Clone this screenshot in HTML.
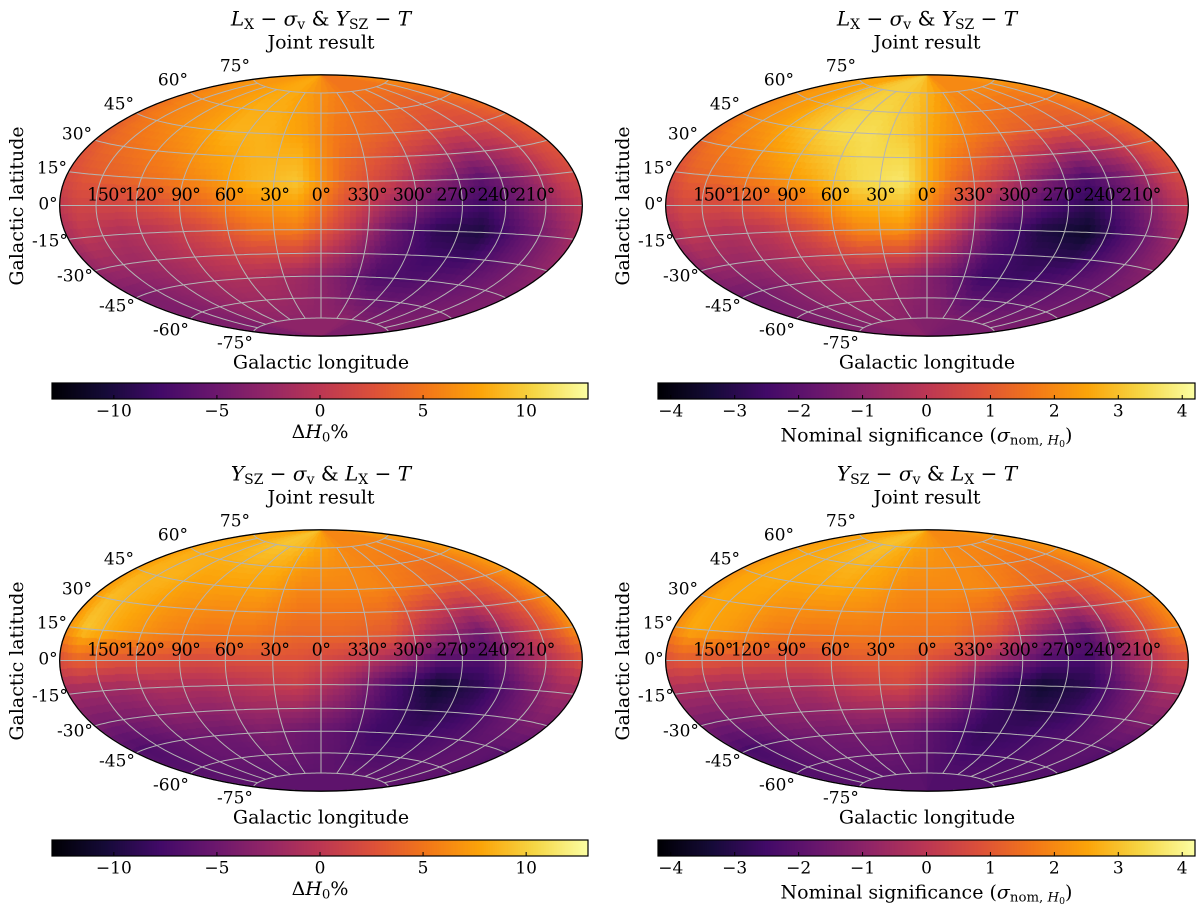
<!DOCTYPE html>
<html><head><meta charset="utf-8">
<style>
body{margin:0;background:#fff;}
#wrap{position:relative;width:1200px;height:908px;overflow:hidden;font-family:"DejaVu Serif","Liberation Serif",serif;color:#000;}
canvas,svg{position:absolute;left:0;top:0;}
.t{position:absolute;white-space:nowrap;transform:translate(-50%,-50%);line-height:1;}
.lon{letter-spacing:-0.6px;}
sub{font-size:70%;vertical-align:-0.25em;}
.ylab{position:absolute;white-space:nowrap;transform:translate(-50%,-50%) rotate(-90deg);font-size:19px;}
</style></head><body>
<div id="wrap">
<canvas id="cv" width="1200" height="908"></canvas>
<svg id="sv" width="1200" height="908"></svg>
</div>
<script>
// Grid data: plotted longitude columns (left->right) and latitude rows (top->bottom)
const lonCenters=[165,135,105,75,45,15,345,315,285,255,225,195];
const latCenters=[75,45,15,-15,-45,-75];
const dH_LX=[
 [7,7,7.5,8,8,7,6,5,5,5,5,6],
 [5,6,7,8.5,8.5,7.5,5,4,3,2,2,3],
 [3,4,5,6.5,8.5,9.5,4,1,-3,-6,-3,1],
 [0,-1,0,2,4.5,5.5,1,-5,-9,-10,-6,-3],
 [-4,-3,-2,-1,-1,-2,-4,-7,-7,-6,-5,-4],
 [-4,-4,-3,-3,-3,-3,-3,-3,-4,-4,-4,-4]];
const sig_LX=[
 [2.5,2.5,3,3.2,3.2,3,2.5,2,2,2,2,2.2],
 [2,2.3,2.9,3.4,3.5,3.1,2.2,1.6,1.2,1,1,1.3],
 [1.2,1.5,2,2.6,3.4,3.7,1.6,0.3,-1.2,-2.3,-1.3,0.3],
 [0,-0.3,0,0.8,1.9,2.2,0.3,-2,-3.2,-3.6,-2.2,-1],
 [-1.5,-1.2,-0.8,-0.5,-0.5,-0.8,-1.5,-2.6,-2.6,-2.2,-1.8,-1.5],
 [-1.2,-1.2,-1,-1,-1,-1.2,-1.2,-1.3,-1.4,-1.4,-1.4,-1.4]];
const dH_YSZ=[
 [8,8,9,9.5,9,8,7,6,6,6,6,7],
 [8.5,8.5,7.5,7.5,7.5,6,6,6,5,4,4,6],
 [9.5,7.5,6,5,5,4,4,3,-2,-5,0,4],
 [-2,-2,-1,-1,0,1,-2,-7,-11,-9,-5,-2],
 [-7,-6,-5,-5,-4,-5,-6,-8,-8,-7,-6,-6],
 [-6,-6,-6,-6,-6,-6,-6,-6,-6,-6,-6,-6]];
const sig_YSZ=[
 [2.5,2.6,2.9,3,2.7,2.4,2.2,2,2,2,2,2.2],
 [2.5,2.6,2.5,2.6,2.4,2,2,2,1.6,1.2,1.2,1.8],
 [2.6,2.3,1.8,1.6,1.7,1.6,1.5,0.8,-1,-2,0,1.4],
 [-0.5,-0.6,-0.4,-0.3,0.3,0.6,-0.6,-2.5,-3.5,-3,-1.6,-0.5],
 [-2.4,-2,-1.6,-1.5,-1.4,-1.6,-2.2,-2.8,-2.6,-2.3,-2,-2],
 [-2,-2,-2,-2,-2,-2,-2.2,-2.2,-2.2,-2.2,-2.2,-2.2]];
const lonTickLabels=["150°","120°","90°","60°","30°","0°","330°","300°","270°","240°","210°"];
const lonTickVals=[150,120,90,60,30,0,-30,-60,-90,-120,-150];
const latTickLabels=["75°","60°","45°","30°","15°","0°","-15°","-30°","-45°","-60°","-75°"];
const dHTicks=[-10,-5,0,5,10];
const sigTicks=[-4,-3,-2,-1,0,1,2,3,4];

const S=92.4;
const panels=[
 {cx:321,cy:205.5,data:dH_LX,vmin:-13,vmax:13,ticks:dHTicks,cb:[52,383,588,399],title:'<i>L</i><sub>X</sub> − <i>σ</i><sub>v</sub> &amp; <i>Y</i><sub>SZ</sub> − <i>T</i>',cbl:'Δ<i>H</i><sub>0</sub>%'},
 {cx:927,cy:205.5,data:sig_LX,vmin:-4.2,vmax:4.2,ticks:sigTicks,cb:[658,383,1195,399],title:'<i>L</i><sub>X</sub> − <i>σ</i><sub>v</sub> &amp; <i>Y</i><sub>SZ</sub> − <i>T</i>',cbl:'Nominal significance (<i>σ</i><sub>nom, <i>H</i><sub>0</sub></sub>)'},
 {cx:321,cy:660.5,data:dH_YSZ,vmin:-13,vmax:13,ticks:dHTicks,cb:[52,840,588,856],title:'<i>Y</i><sub>SZ</sub> − <i>σ</i><sub>v</sub> &amp; <i>L</i><sub>X</sub> − <i>T</i>',cbl:'Δ<i>H</i><sub>0</sub>%'},
 {cx:927,cy:660.5,data:sig_YSZ,vmin:-4.2,vmax:4.2,ticks:sigTicks,cb:[658,840,1195,856],title:'<i>Y</i><sub>SZ</sub> − <i>σ</i><sub>v</sub> &amp; <i>L</i><sub>X</sub> − <i>T</i>',cbl:'Nominal significance (<i>σ</i><sub>nom, <i>H</i><sub>0</sub></sub>)'}
];
const inf=[[0,0,4],[22,11,57],[66,10,104],[106,23,110],[147,38,103],[188,55,84],[221,81,58],[243,120,25],[252,165,10],[246,215,70],[252,255,164]];
function cmap(t){t=Math.max(0,Math.min(1,t));const f=t*10,i=Math.min(9,Math.floor(f)),r=f-i;const a=inf[i],b=inf[i+1];return [a[0]+(b[0]-a[0])*r,a[1]+(b[1]-a[1])*r,a[2]+(b[2]-a[2])*r];}
const D=Math.PI/180;
function hammer(p,b){const c=Math.cos(b*D),d=Math.sqrt(1+c*Math.cos(p*D/2));return [2*Math.SQRT2*c*Math.sin(p*D/2)/d,Math.SQRT2*Math.sin(b*D)/d];}
function sample(data,p,b){
 let fi=(165-p)/30, i0=Math.floor(fi), fr=fi-i0;
 let fj=(75-b)/30; fj=Math.max(0,Math.min(5,fj)); let j0=Math.min(4,Math.floor(fj)), gr=fj-j0;
 const w=k=>((k%12)+12)%12;
 const v=(j,i)=>data[j][w(i)];
 const top=v(j0,i0)*(1-fr)+v(j0,i0+1)*fr, bot=v(j0+1,i0)*(1-fr)+v(j0+1,i0+1)*fr;
 return top*(1-gr)+bot*gr;
}
const ctx=document.getElementById('cv').getContext('2d');
const img=ctx.createImageData(1200,908);
panels.forEach(P=>{
 for(let py=Math.floor(P.cy-132);py<P.cy+132;py++)for(let px=Math.floor(P.cx-263);px<P.cx+263;px++){
  const X=(px+0.5-P.cx)/S,Y=(P.cy-(py+0.5))/S;
  if(X*X/8+Y*Y/2>1)continue;
  const z=Math.sqrt(1-X*X/16-Y*Y/4);
  let p=2*Math.atan2(-z*X,2*(2*z*z-1))/D, b=Math.asin(Math.max(-1,Math.min(1,z*Y)))/D;
  const bq=Math.floor(b/3.6)*3.6+1.8, step=3.6/Math.max(0.25,Math.cos(bq*D));
  const pq=Math.floor(p/step)*step+step/2;
  const v=sample(P.data,pq,bq);
  const c=cmap((v-P.vmin)/(P.vmax-P.vmin));
  const k=(py*1200+px)*4;img.data[k]=c[0];img.data[k+1]=c[1];img.data[k+2]=c[2];img.data[k+3]=255;
 }
});
ctx.putImageData(img,0,0);
panels.forEach(P=>{const [x0,y0,x1,y1]=P.cb;for(let x=x0;x<x1;x++){const c=cmap((x+0.5-x0)/(x1-x0));ctx.fillStyle=`rgb(${c[0]|0},${c[1]|0},${c[2]|0})`;ctx.fillRect(x,y0,1,y1-y0);}});
const NS='http://www.w3.org/2000/svg',sv=document.getElementById('sv'),wrap=document.getElementById('wrap');
function el(t,a){const e=document.createElementNS(NS,t);for(const k in a)e.setAttribute(k,a[k]);sv.appendChild(e);return e;}
function txt(x,y,html,size,name){const d=document.createElement('div');d.className='t';d.style.left=x+'px';d.style.top=y+'px';d.style.fontSize=size+'px';d.innerHTML=html;
 
 
 wrap.appendChild(d);return d;}
const latOff=[[-86,-139],[-148,-125],[-202,-101],[-244,-71],[-269,-37],[-273,-1],[-271,36],[-246,71],[-204,101],[-150,125],[-86,138]];
panels.forEach(P=>{
 const pt=(p,b)=>{const h=hammer(p,b);return [P.cx-h[0]*S,P.cy-h[1]*S];};
 let d='';
 for(let b=-75;b<=75;b+=15){for(let p=180;p>=-180;p-=3){const q=pt(p,b);d+=(p==180?'M':'L')+q[0].toFixed(1)+' '+q[1].toFixed(1);}}
 for(let p=-150;p<=180;p+=30){for(let b=-75;b<=75;b+=3){const q=pt(p,b);d+=(b==-75?'M':'L')+q[0].toFixed(1)+' '+q[1].toFixed(1);}}
 const g=el('path',{d:d,fill:'none',stroke:'#b4b4b4','stroke-width':1});
 
 
 const e=el('ellipse',{cx:P.cx,cy:P.cy,rx:2*Math.SQRT2*S,ry:Math.SQRT2*S,fill:'none',stroke:'#000','stroke-width':1.3});
 
 
 const [x0,y0,x1,y1]=P.cb;
 const r=el('rect',{x:x0,y:y0,width:x1-x0,height:y1-y0,fill:'none',stroke:'#000','stroke-width':1.2});
 
 
 P.ticks.forEach(t=>{const x=x0+(t-P.vmin)/(P.vmax-P.vmin)*(x1-x0);
  const l=el('line',{x1:x,x2:x,y1:y1,y2:y1-4,stroke:'#000','stroke-width':1});
  
  
  txt(x,y1+13,(t<0?'−':'')+Math.abs(t),17,'colorbar-tick-label');});
 txt((x0+x1)/2,y1+(P.vmax>5?35:39),P.cbl,19,'colorbar-label');
 lonTickVals.forEach((p,i)=>{const q=pt(p,19);const t=txt(q[0],P.cy-10,lonTickLabels[i],17.5,'longitude-tick-label');t.classList.add('lon');});
 latTickLabels.forEach((s,i)=>txt(P.cx+latOff[i][0],P.cy+latOff[i][1],s,17,'latitude-tick-label'));
 txt(P.cx,P.cy-186,P.title,20,'panel-title');
 txt(P.cx,P.cy-163,'Joint result',19,'panel-subtitle');
 txt(P.cx,P.cy+157,'Galactic longitude',19,'x-axis-title');
 const y=document.createElement('div');y.className='ylab';y.style.left=(P.cx-304)+'px';y.style.top=P.cy+'px';y.textContent='Galactic latitude';
 
 
 wrap.appendChild(y);
});
</script>
</body></html>
